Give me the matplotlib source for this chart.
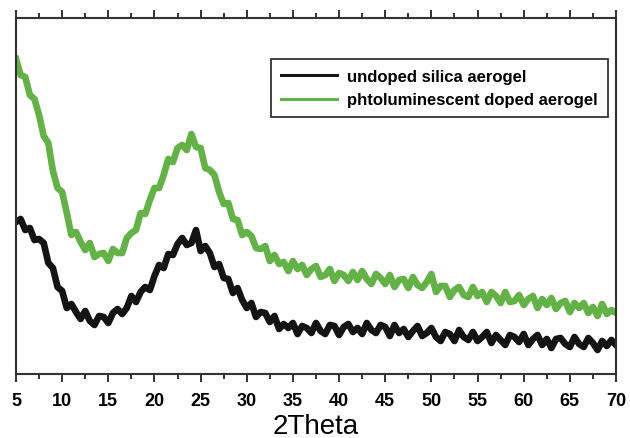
import numpy as np
import matplotlib
matplotlib.use("Agg")
import matplotlib.pyplot as plt
from matplotlib.ticker import MultipleLocator, NullLocator

plt.rcParams["font.family"] = ["Liberation Sans", "DejaVu Sans"]

# 2Theta grid (degrees), one reading every 0.5 deg
two_theta = np.arange(5.0, 70.01, 0.5)

# intensity (a.u.), noise included
undoped = [
    152, 155, 144, 146, 134, 135, 131, 111, 106, 87,
    83, 66, 70, 62, 55, 63, 53, 49, 58, 57,
    51, 61, 65, 60, 66, 78, 72, 82, 87, 84,
    98, 109, 106, 120, 119, 130, 136, 129, 131, 144,
    123, 128, 121, 107, 110, 96, 95, 81, 86, 74,
    66, 71, 57, 62, 61, 52, 58, 45, 50, 46,
    51, 40, 48, 46, 41, 51, 43, 40, 49, 48,
    39, 47, 50, 42, 46, 40, 51, 44, 41, 49,
    47, 38, 49, 41, 45, 37, 43, 48, 38, 41,
    46, 37, 33, 42, 40, 33, 44, 37, 34, 42,
    33, 37, 42, 31, 39, 34, 29, 39, 37, 32,
    40, 29, 35, 39, 29, 35, 26, 35, 36, 30,
    27, 37, 30, 27, 36, 31, 24, 33, 28, 34,
    29,
]

doped = [
    315, 299, 297, 279, 275, 259, 238, 231, 203, 186,
    182, 161, 139, 142, 132, 124, 131, 117, 120, 121,
    113, 125, 121, 121, 136, 141, 144, 161, 160, 174,
    186, 186, 199, 215, 212, 226, 229, 224, 240, 227,
    226, 206, 204, 199, 182, 170, 171, 155, 154, 139,
    142, 138, 126, 125, 128, 113, 119, 110, 112, 103,
    113, 105, 109, 99, 105, 108, 97, 99, 105, 93,
    101, 99, 93, 102, 94, 103, 95, 90, 100, 96,
    90, 99, 87, 94, 95, 86, 97, 89, 86, 92,
    100, 82, 88, 88, 77, 84, 87, 79, 77, 87,
    78, 82, 72, 82, 78, 71, 82, 72, 73, 79,
    69, 75, 78, 66, 75, 69, 76, 65, 71, 73,
    62, 71, 66, 71, 61, 67, 58, 70, 60, 64,
    61,
]

labels = ["undoped silica aerogel", "phtoluminescent doped aerogel"]
colors = ["#141414", "#62b245"]

fig = plt.figure(figsize=(6.3, 4.39), dpi=100)
ax = fig.add_axes([0.0254, 0.1458, 0.9524, 0.9567 - 0.1458])

ax.plot(two_theta, undoped, color=colors[0], lw=4.8, label=labels[0])
ax.plot(two_theta, doped, color=colors[1], lw=4.8, label=labels[1])

ax.set_xlim(5, 70)
ax.set_ylim(0, 356)

ax.xaxis.set_major_locator(MultipleLocator(5))
ax.xaxis.set_minor_locator(MultipleLocator(2.5))
ax.yaxis.set_major_locator(NullLocator())
ax.yaxis.set_minor_locator(NullLocator())
ax.tick_params(axis="x", which="both", direction="out", top=True,
               bottom=True, color="#333333", width=1.4)
ax.tick_params(axis="x", which="major", length=6, pad=7, labelsize=13)
ax.tick_params(axis="x", which="minor", length=3.5)
for lab in ax.get_xticklabels():
    lab.set_fontweight("bold")

for side in ["top", "bottom", "left", "right"]:
    ax.spines[side].set_color("#333333")
    ax.spines[side].set_linewidth(1.5)

ax.set_xlabel("2Theta", fontsize=20, labelpad=3)

leg = ax.legend(loc="upper right", bbox_to_anchor=(0.9867, 0.8848),
                borderaxespad=0, fancybox=False, frameon=True,
                prop={"weight": "bold", "size": 12},
                handlelength=3.4, handletextpad=0.6, labelspacing=0.5,
                borderpad=0.6)
frame = leg.get_frame()
frame.set_edgecolor("#333333")
frame.set_linewidth(1.3)
frame.set_alpha(1.0)
for line in leg.get_lines():
    line.set_linewidth(2.2)

fig.savefig("out.png", dpi=100)
